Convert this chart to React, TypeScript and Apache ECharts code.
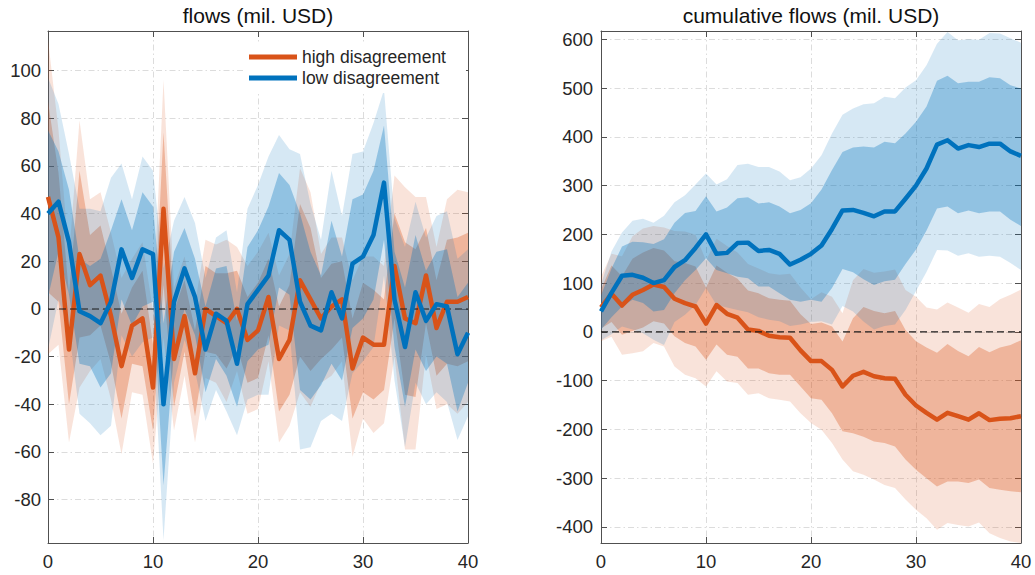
import React, { useEffect, useRef } from "react";
import * as echarts from "echarts";

// ---------- data ----------
const X = [0, 1, 2, 3, 4, 5, 6, 7, 8, 9, 10, 11, 12, 13, 14, 15, 16, 17, 18, 19, 20, 21, 22, 23, 24, 25, 26, 27, 28, 29, 30, 31, 32, 33, 34, 35, 36, 37, 38, 39, 40];
const X_TICKS = [0, 10, 20, 30, 40];
const FLOW_TICKS = [-80, -60, -40, -20, 0, 20, 40, 60, 80, 100];
const CUM_TICKS = [-400, -300, -200, -100, 0, 100, 200, 300, 400, 500, 600];

// left panel: flows
const flowHighLine = [47, 30, -17, 23, 10, 14, -3, -24, -7, -4, -33, 42, -21, -3, -27, 0, -3, -6, 0, -13, -9, 5, -21, -13, 12, 4, -4, 1, 4, -25, -12, -15, -15, 18, -4, -6, 14, -8, 3, 3, 5];
const flowHighOuterHi = [113, 75, 22, 79, 46, 49, 32, 13, 21, 28, -1, 96, 9, 22, 2, 29, 27, 29, 26, 18, 24, 32, 14, 23, 59, 49, 23, 30, 30, 12, 22, 22, 18, 56, 51, 47, 47, 26, 46, 50, 49];
const flowHighOuterLo = [-19, -15, -56, -33, -26, -21, -38, -61, -35, -36, -65, -12, -51, -28, -56, -29, -31, -39, -26, -44, -42, -22, -56, -49, -35, -41, -31, -28, -22, -62, -46, -52, -48, -20, -59, -59, -19, -42, -40, -44, -39];
const flowHighInnerHi = [87, 57, 6, 58, 31, 35, 17, -2, 9, 16, -15, 74, -1, 12, -9, 18, 15, 15, 16, 5, 11, 21, 1, 10, 44, 34, 13, 19, 20, -4, 11, 8, 4, 40, 28, 25, 34, 12, 29, 30, 32];
const flowHighInnerLo = [7, 3, -40, -12, -11, -7, -23, -46, -23, -24, -51, 10, -41, -18, -45, -18, -19, -25, -16, -31, -29, -11, -43, -36, -20, -26, -21, -17, -12, -46, -35, -38, -34, -4, -36, -37, -6, -28, -23, -24, -22];

const flowLowLine = [40, 45, 28, -1, -3, -6, 3, 25, 13, 25, 23, -40, 3, 17, 5, -17, -2, -5, -23, 2, 8, 14, 33, 29, 3, -7, -9, 7, -4, 19, 22, 31, 53, 4, -16, 7, -5, 2, 1, -19, -10];
const flowLowOuterHi = [97, 86, 65, 42, 42, 41, 55, 61, 46, 64, 58, 17, 37, 47, 36, 13, 30, 33, 7, 42, 52, 64, 73, 67, 65, 44, 29, 58, 39, 65, 66, 78, 92, 38, 26, 45, 30, 39, 41, 21, 25];
const flowLowOuterLo = [-17, 4, -9, -44, -48, -53, -49, -11, -20, -14, -12, -97, -31, -13, -26, -47, -34, -43, -53, -38, -36, -36, -7, -9, -59, -58, -47, -44, -47, -27, -22, -16, 14, -30, -58, -31, -40, -35, -39, -55, -45];
const flowLowInnerHi = [75, 66, 50, 21, 18, 21, 33, 46, 33, 49, 43, -6, 24, 34, 21, 1, 17, 18, -5, 26, 33, 43, 57, 52, 40, 24, 14, 37, 22, 46, 48, 58, 77, 24, 9, 31, 16, 24, 25, 5, 11];
const flowLowInnerLo = [5, 24, 6, -23, -24, -33, -27, 4, -7, 1, 3, -74, -18, 0, -11, -35, -21, -28, -41, -22, -17, -15, 9, 6, -34, -38, -32, -23, -30, -8, -4, 4, 29, -16, -41, -17, -26, -20, -23, -43, -31];

// right panel: cumulative flows
const cumHighLine = [50, 78, 54, 76, 86, 97, 92, 68, 59, 52, 17, 55, 37, 29, 5, 2, -8, -11, -12, -38, -60, -60, -78, -112, -90, -82, -91, -95, -96, -129, -151, -166, -180, -166, -173, -180, -167, -181, -178, -177, -173];
const cumHighOuterHi = [113, 160, 155, 196, 212, 217, 214, 207, 206, 199, 146, 191, 176, 163, 139, 130, 120, 117, 119, 91, 67, 81, 72, 38, 106, 129, 121, 124, 128, 86, 72, 50, 46, 60, 50, 39, 57, 51, 67, 76, 87];
const cumHighOuterLo = [-19, -10, -47, -44, -40, -23, -30, -71, -88, -95, -112, -81, -102, -105, -129, -126, -136, -139, -143, -167, -187, -201, -228, -262, -286, -293, -303, -314, -320, -344, -365, -382, -406, -392, -396, -399, -391, -413, -423, -430, -433];
const cumHighInnerHi = [87, 136, 114, 150, 163, 172, 167, 145, 141, 134, 91, 136, 121, 109, 85, 79, 69, 66, 64, 36, 16, 19, 11, -20, 28, 51, 43, 38, 43, 4, -19, -32, -43, -25, -39, -50, -31, -42, -32, -27, -17];
const cumHighInnerLo = [7, 20, -6, 2, 9, 22, 17, -9, -23, -30, -57, -26, -47, -51, -75, -75, -85, -88, -88, -112, -136, -139, -167, -204, -208, -215, -225, -228, -235, -262, -283, -300, -317, -307, -307, -310, -303, -320, -324, -327, -329];

const cumLowLine = [42, 80, 115, 117, 111, 100, 106, 133, 147, 172, 200, 160, 162, 182, 183, 166, 168, 160, 138, 148, 160, 177, 211, 249, 250, 244, 237, 247, 247, 273, 300, 335, 384, 393, 376, 383, 379, 386, 386, 370, 361];
const cumLowOuterHi = [97, 165, 204, 228, 232, 224, 238, 266, 280, 302, 325, 302, 313, 342, 345, 338, 338, 329, 311, 317, 335, 362, 407, 445, 458, 467, 469, 482, 479, 501, 516, 547, 591, 615, 598, 600, 599, 613, 612, 602, 593];
const cumLowOuterLo = [-17, -5, 11, 5, -3, -16, -27, 20, 35, 55, 90, 55, 50, 45, 40, 30, 25, 22, 12, 15, 20, 22, 15, 53, 42, 21, 5, 12, 15, 45, 84, 123, 168, 167, 156, 161, 154, 156, 154, 141, 127];
const cumLowInnerHi = [75, 130, 175, 185, 184, 180, 190, 224, 244, 248, 278, 247, 255, 274, 276, 263, 266, 257, 243, 250, 264, 292, 332, 369, 378, 380, 378, 390, 387, 407, 431, 462, 515, 525, 510, 513, 513, 522, 520, 506, 499];
const cumLowInnerLo = [5, 30, 52, 66, 59, 42, 45, 79, 106, 127, 151, 127, 120, 113, 110, 93, 93, 79, 66, 62, 66, 62, 90, 129, 122, 108, 96, 104, 107, 139, 169, 208, 253, 257, 243, 249, 243, 247, 247, 230, 217];

const ZERO_LINE = [0, 0];

// ---------- styling ----------
const FONT = '"Liberation Sans", Arial, Helvetica, sans-serif';
const ORANGE = "#D95319";
const BLUE = "#0072BD";
const ORANGE_OUT = "rgba(217,83,25,0.16)";
const ORANGE_IN = "rgba(217,83,25,0.32)";
const BLUE_OUT = "rgba(0,114,189,0.16)";
const BLUE_IN = "rgba(0,114,189,0.32)";
const AXIS_COLOR = "#505050";
const LABEL_COLOR = "#262626";
const GRID_COLOR = "#dcdcdc";
const GRID_DASH = [6, 3, 1.5, 3];

function band(axisIdx: number, lo: number[], hi: number[], fill: string) {
  return {
    type: "custom",
    xAxisIndex: axisIdx,
    yAxisIndex: axisIdx,
    silent: true,
    clip: true,
    data: X.map((x, i) => [x, lo[i], hi[i]]),
    encode: { x: 0, y: [1, 2] },
    renderItem: (params: any, api: any) => {
      if (params.dataIndex !== 0) return null;
      const pts: number[][] = [];
      for (let i = 0; i < X.length; i++) pts.push(api.coord([X[i], hi[i]]));
      for (let i = X.length - 1; i >= 0; i--) pts.push(api.coord([X[i], lo[i]]));
      return { type: "polygon", shape: { points: pts }, style: { fill } };
    },
  };
}

function line(axisIdx: number, name: string, vals: number[], color: string) {
  return {
    type: "line",
    name,
    xAxisIndex: axisIdx,
    yAxisIndex: axisIdx,
    data: X.map((x, i) => [x, vals[i]]),
    showSymbol: false,
    symbol: "none",
    silent: true,
    color,
    lineStyle: { color, width: 4.5, join: "round" },
  };
}

function zero(axisIdx: number) {
  return {
    type: "line",
    xAxisIndex: axisIdx,
    yAxisIndex: axisIdx,
    data: [[X[0], ZERO_LINE[0]], [X[X.length - 1], ZERO_LINE[1]]],
    showSymbol: false,
    symbol: "none",
    silent: true,
    lineStyle: { color: "#1a1a1a", width: 1.1, type: [7, 4] },
  };
}

function xAxes(grid: number) {
  const common = {
    gridIndex: grid,
    type: "value",
    min: 0,
    max: 40,
    interval: 10,
    axisLine: { show: true, onZero: false, lineStyle: { color: AXIS_COLOR, width: 1 } },
    axisTick: { show: true, inside: true, length: 6, lineStyle: { color: AXIS_COLOR } },
  };
  return [
    {
      ...common,
      position: "bottom",
      axisLabel: { show: true, fontSize: 18.5, color: LABEL_COLOR, fontFamily: FONT, margin: 9, customValues: X_TICKS },
      splitLine: { show: true, lineStyle: { color: GRID_COLOR, width: 1, type: GRID_DASH } },
    },
    { ...common, position: "top", axisLabel: { show: false }, splitLine: { show: false } },
  ];
}

function yAxes(grid: number, min: number, max: number, ticks: number[], margin: number) {
  const common = {
    gridIndex: grid,
    type: "value",
    min,
    max,
    axisLine: { show: true, onZero: false, lineStyle: { color: AXIS_COLOR, width: 1 } },
    axisTick: { show: true, inside: true, length: 6, customValues: ticks, lineStyle: { color: AXIS_COLOR } },
  };
  return [
    {
      ...common,
      position: "left",
      axisLabel: { show: true, fontSize: 18.5, color: LABEL_COLOR, fontFamily: FONT, margin, customValues: ticks },
      splitLine: { show: true, lineStyle: { color: GRID_COLOR, width: 1, type: GRID_DASH } },
    },
    { ...common, position: "right", axisLabel: { show: false }, splitLine: { show: false } },
  ];
}

export default function App() {
  const ref = useRef<HTMLDivElement>(null);
  useEffect(() => {
    if (!ref.current) return;
    const chart = echarts.init(ref.current, undefined, { renderer: "svg" });
    const option: any = {
      animation: false,
      backgroundColor: "#ffffff",
      textStyle: { fontFamily: FONT },
      title: [
        {
          text: "flows (mil. USD)",
          left: 258,
          top: 5,
          padding: 0,
          textAlign: "center",
          textStyle: { fontSize: 21, fontWeight: "normal", color: "#111", fontFamily: FONT },
        },
        {
          text: "cumulative flows (mil. USD)",
          left: 811,
          top: 5,
          padding: 0,
          textAlign: "center",
          textStyle: { fontSize: 21, fontWeight: "normal", color: "#111", fontFamily: FONT },
        },
      ],
      legend: {
        data: [
          { name: "high disagreement", icon: "rect" },
          { name: "low disagreement", icon: "rect" },
        ],
        orient: "vertical",
        left: 243,
        top: 42,
        itemWidth: 48,
        itemHeight: 5,
        itemGap: 3,
        padding: [6, 20, 6, 6],
        backgroundColor: "#ffffff",
        selectedMode: false,
        textStyle: { fontSize: 17.5, color: LABEL_COLOR, fontFamily: FONT, lineHeight: 16, padding: [0, 0, 0, 0] },
      },
      grid: [
        { left: 48, top: 31, width: 420, height: 512 },
        { left: 601, top: 31, width: 420, height: 512 },
      ],
      xAxis: [...xAxes(0), ...xAxes(1)],
      yAxis: [...yAxes(0, -98.2, 116.6, FLOW_TICKS, 7), ...yAxes(1, -433, 617, CUM_TICKS, 8)],
      series: [
        // left panel
        band(0, flowHighOuterLo, flowHighOuterHi, ORANGE_OUT),
        band(0, flowHighInnerLo, flowHighInnerHi, ORANGE_IN),
        line(0, "high disagreement", flowHighLine, ORANGE),
        band(0, flowLowOuterLo, flowLowOuterHi, BLUE_OUT),
        band(0, flowLowInnerLo, flowLowInnerHi, BLUE_IN),
        zero(0),
        line(0, "low disagreement", flowLowLine, BLUE),
        // right panel (axis index 2 = second grid's primary axes)
        band(2, cumHighOuterLo, cumHighOuterHi, ORANGE_OUT),
        band(2, cumHighInnerLo, cumHighInnerHi, ORANGE_IN),
        line(2, "high disagreement (cumulative)", cumHighLine, ORANGE),
        band(2, cumLowOuterLo, cumLowOuterHi, BLUE_OUT),
        band(2, cumLowInnerLo, cumLowInnerHi, BLUE_IN),
        zero(2),
        line(2, "low disagreement (cumulative)", cumLowLine, BLUE),
      ],
    };
    chart.setOption(option);
    return () => chart.dispose();
  }, []);
  return (
    <div
      ref={ref}
      style={{ position: "absolute", left: 0, top: 0, width: 1035, height: 575, background: "#fff" }}
    />
  );
}
